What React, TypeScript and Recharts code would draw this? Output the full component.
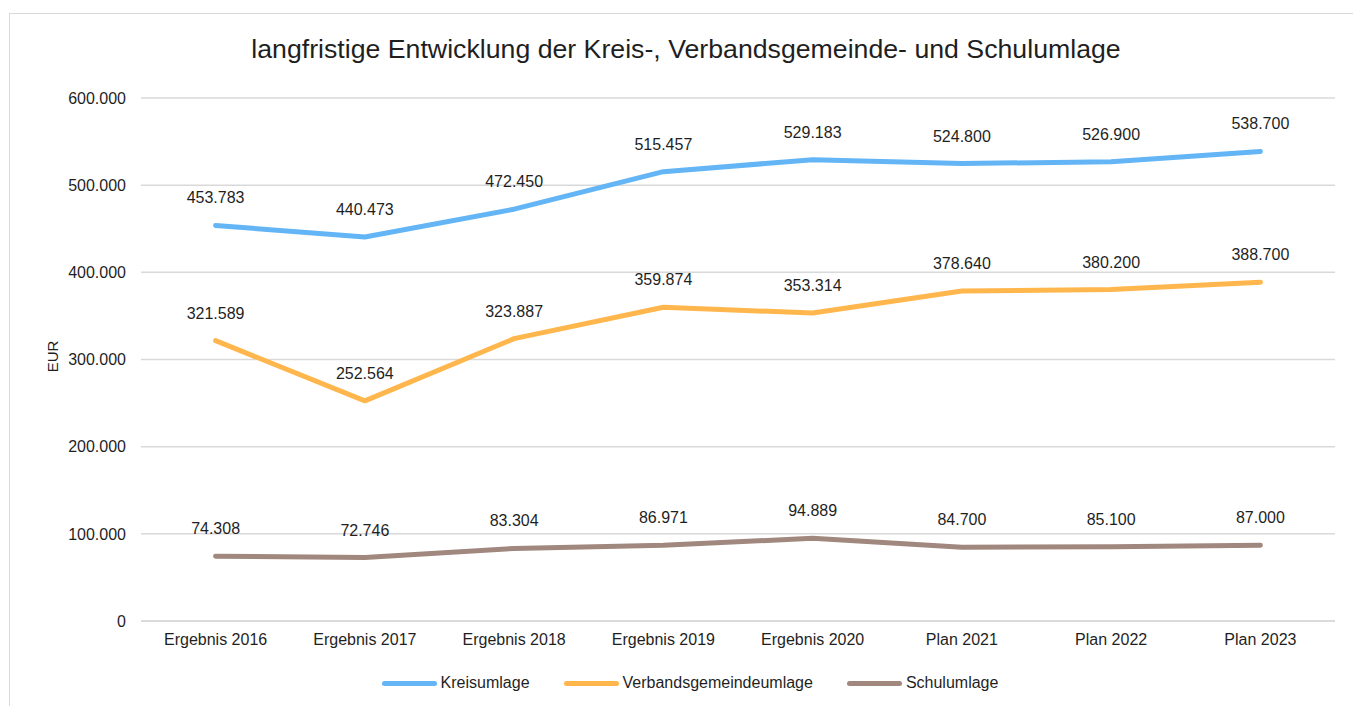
import { CartesianGrid, Label, LabelList, Line, LineChart, XAxis, YAxis } from "recharts";

const categories = [
  "Ergebnis 2016",
  "Ergebnis 2017",
  "Ergebnis 2018",
  "Ergebnis 2019",
  "Ergebnis 2020",
  "Plan 2021",
  "Plan 2022",
  "Plan 2023",
];
const kreisumlage = [453783, 440473, 472450, 515457, 529183, 524800, 526900, 538700];
const verbandsumlage = [321589, 252564, 323887, 359874, 353314, 378640, 380200, 388700];
const schulumlage = [74308, 72746, 83304, 86971, 94889, 84700, 85100, 87000];
const yTicks = [0, 100000, 200000, 300000, 400000, 500000, 600000];

const series = [
  { key: "kreis", name: "Kreisumlage", color: "#64B5F6" },
  { key: "verband", name: "Verbandsgemeindeumlage", color: "#FFB74D" },
  { key: "schul", name: "Schulumlage", color: "#A1887F" },
];

const data = categories.map((c, i) => ({
  cat: c,
  kreis: kreisumlage[i],
  verband: verbandsumlage[i],
  schul: schulumlage[i],
}));

// 453783 -> "453.783"
function de(v: number): string {
  return String(Math.round(v)).replace(/\B(?=(\d{3})+(?!\d))/g, ".");
}

const FONT = "'Liberation Sans', Arial, sans-serif";
const TEXT = "#1f1f1f";
const GRID = "#d9d9d9";

export default function App() {
  return (
    <div
      style={{
        position: "absolute",
        left: 0,
        top: 0,
        width: 1353,
        height: 706,
        background: "#fff",
        fontFamily: FONT,
        overflow: "hidden",
      }}
    >
      <div
        style={{
          position: "absolute",
          left: 9,
          top: 13,
          right: -2,
          bottom: -2,
          borderTop: `1.5px solid ${GRID}`,
          borderLeft: `1.5px solid ${GRID}`,
        }}
      />
      <div
        style={{
          position: "absolute",
          top: 34,
          left: 0,
          width: 1372,
          textAlign: "center",
          fontSize: 26.7,
          color: TEXT,
        }}
      >
        langfristige Entwicklung der Kreis-, Verbandsgemeinde- und Schulumlage
      </div>
      <LineChart
        width={1353}
        height={706}
        data={data}
        margin={{ top: 98, right: 18, bottom: 55, left: 10 }}
        style={{ position: "absolute", left: 0, top: 0 }}
      >
        <CartesianGrid vertical={false} stroke={GRID} strokeWidth={1.5} />
        <XAxis
          dataKey="cat"
          axisLine={{ stroke: GRID, strokeWidth: 1.5 }}
          tickLine={false}
          tickMargin={7}
          padding={{ left: 74.6, right: 74.6 }}
          tick={{ fontSize: 16, fill: TEXT, fontFamily: FONT }}
          interval={0}
        />
        <YAxis
          width={131}
          domain={[0, 600000]}
          ticks={yTicks}
          axisLine={false}
          tickLine={false}
          tickMargin={9}
          tickFormatter={de}
          tick={{ fontSize: 16, fill: TEXT, fontFamily: FONT }}
        >
          <Label
            content={({ viewBox }: any) => {
              const cx = 52;
              const cy = viewBox.y + viewBox.height / 2 - 3;
              return (
                <text
                  x={cx}
                  y={cy}
                  transform={`rotate(-90 ${cx} ${cy})`}
                  textAnchor="middle"
                  dominantBaseline="central"
                  fontSize={15}
                  fill={TEXT}
                  fontFamily={FONT}
                >
                  EUR
                </text>
              );
            }}
          />
        </YAxis>
        {series.map((s) => (
          <Line
            key={s.key}
            dataKey={s.key}
            name={s.name}
            type="linear"
            stroke={s.color}
            strokeWidth={5}
            strokeLinecap="round"
            strokeLinejoin="round"
            dot={false}
            activeDot={false}
            isAnimationActive={false}
          >
            <LabelList
              dataKey={s.key}
              position="top"
              offset={22}
              formatter={(v: any) => de(Number(v))}
              style={{ fontSize: 16, fill: TEXT, fontFamily: FONT }}
            />
          </Line>
        ))}
      </LineChart>
      <div
        style={{
          position: "absolute",
          top: 674,
          left: 0,
          width: 1380,
          display: "flex",
          justifyContent: "center",
          gap: 34,
          fontSize: 16,
          color: TEXT,
        }}
      >
        {series.map((s) => (
          <div key={s.key} style={{ display: "flex", alignItems: "center", gap: 4 }}>
            <div style={{ width: 55, height: 5, borderRadius: 3, background: s.color }} />
            <span>{s.name}</span>
          </div>
        ))}
      </div>
    </div>
  );
}
